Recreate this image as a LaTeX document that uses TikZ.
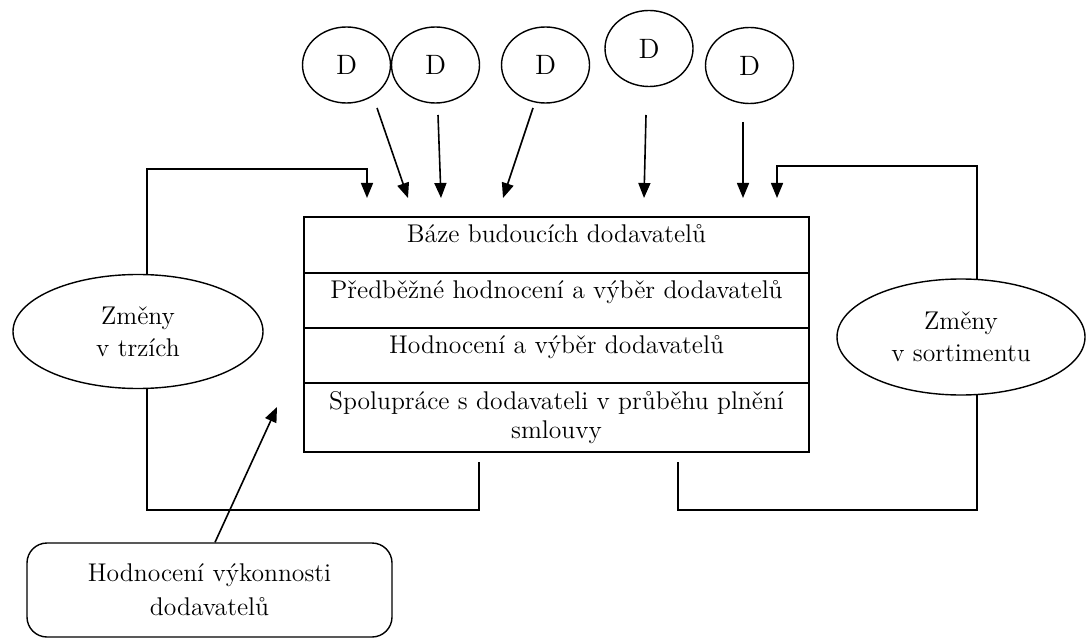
\documentclass[tikz,border=0pt]{standalone}
\usepackage{fontspec}
\usetikzlibrary{arrows.meta,shapes.geometric}
\tikzset{
  line/.style={line width=0.8pt},
  arr/.style={line width=0.8pt,-{Triangle[width=6pt,length=7.5pt]}},
  dod/.style={draw, ellipse, line width=0.7pt, minimum width=44pt, minimum height=38pt, inner sep=0pt, font=\fontsize{14}{16}\selectfont},
  zmena/.style={draw, ellipse, fill=white, line width=0.7pt, minimum width=125pt, minimum height=57pt, inner sep=0pt, align=center},
  row/.style={draw, line width=0.8pt, minimum width=252.5pt, inner sep=0pt, anchor=north, align=center},
}
\begin{document}
\begin{tikzpicture}[x=0.5pt,y=-0.5pt,font=\fontsize{12.8}{16}\selectfont]
        \useasboundingbox (0,0) rectangle (1090,641);

        % smycky zpetne vazby
        \coordinate (lfrom) at (479,462);
        \coordinate (lto) at (367,198);
        \coordinate (rfrom) at (678,462);
        \coordinate (rto) at (777,198);
        \draw [arr] (lfrom) |- (147,510) -- (147,169) -| (lto);
        \draw [arr] (rfrom) |- (977,510) -- (977,166) -| (rto);

        % dodavatele
        \node [dod] (d1) at (346.5,65) {D};
        \node [dod] (d2) at (435.5,65) {D};
        \node [dod] (d3) at (545.5,65) {D};
        \node [dod] (d4) at (649,48.5) {D};
        \node [dod] (d5) at (749.5,65.5) {D};
        \coordinate (a1s) at (377,108);  \coordinate (a1e) at (408,198);
        \coordinate (a2s) at (438,115);  \coordinate (a2e) at (441,198);
        \coordinate (a3s) at (533,108);  \coordinate (a3e) at (503,198);
        \coordinate (a4s) at (646,115);  \coordinate (a4e) at (644,198);
        \coordinate (a5s) at (743,122);  \coordinate (a5e) at (743,198);
        \draw [arr] (a1s) -- (a1e);
        \draw [arr] (a2s) -- (a2e);
        \draw [arr] (a3s) -- (a3e);
        \draw [arr] (a4s) -- (a4e);
        \draw [arr] (a5s) -- (a5e);

        % tabulka
        \node [row, text height=12.75pt, text depth=15.25pt] (baze) at (556.5,216) {Báze budoucích dodavatelů};
        \node [row, text height=12.75pt, text depth=14.75pt] (pred) at (556.5,272) {Předběžné hodnocení a výběr dodavatelů};
        \node [row, text height=12.75pt, text depth=14.75pt] (hodn) at (556.5,327) {Hodnocení a výběr dodavatelů};
        \node [row, minimum height=34.5pt, font=\fontsize{12.8}{14.5}\selectfont] (spol) at (556.5,382) {Spolupráce s dodavateli v průběhu plnění\\smlouvy};

        % zmeny
        \node [zmena] (trhy) at (138,331.5) {Změny\\v trzích};
        \node [zmena, minimum width=124pt, minimum height=58pt] (sort) at (961,337) {Změny\\v sortimentu};

        % hodnoceni vykonnosti
        \node [draw, line width=0.7pt, rounded corners=10pt, minimum width=182.5pt, minimum height=47pt, align=center, font=\fontsize{12.8}{17}\selectfont] (vykon) at (209.5,590) {Hodnocení výkonnosti\\dodavatelů};
        \coordinate (vto) at (277,407);
        \draw [arr] ([xshift=2.75pt]vykon.north) -- (vto);
      \end{tikzpicture}
\end{document}
